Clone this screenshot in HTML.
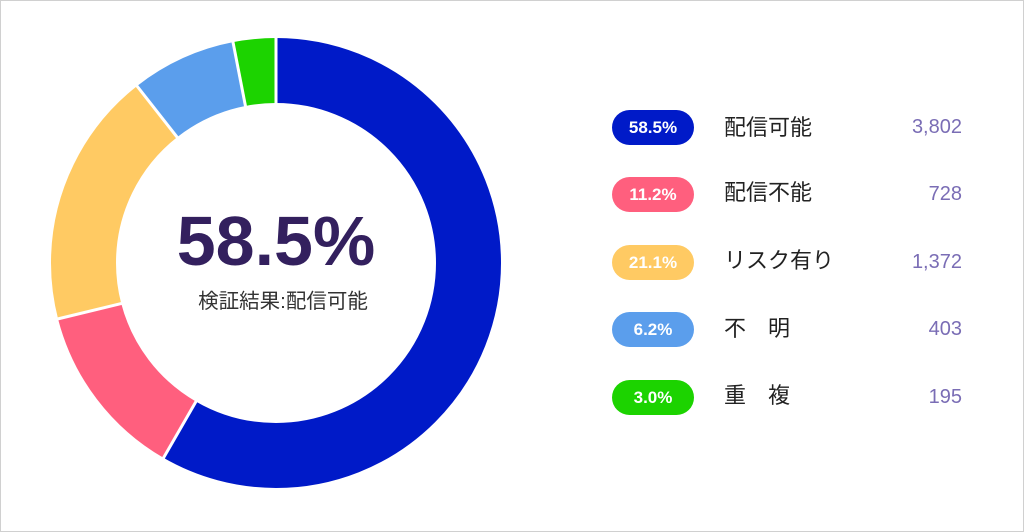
<!DOCTYPE html>
<html><head><meta charset="utf-8"><style>
html,body{margin:0;padding:0;background:#fff}
body{width:1024px;height:532px;position:relative;overflow:hidden;font-family:"Liberation Sans","Noto Sans CJK JP",sans-serif}
.frame{position:absolute;left:0;top:0;width:1022px;height:530px;border:1px solid #d0d0d0}
.pill{position:absolute;left:612px;width:82px;height:35px;border-radius:18px;color:#fff;font-size:17px;font-weight:bold;text-align:center;line-height:35px}
.lab{position:absolute;left:724px;font-size:22px;color:#222;line-height:35px}
.num{position:absolute;right:62px;font-size:20px;color:#7a6db5;line-height:35px}
</style></head><body>
<div class="frame"></div>
<svg width="1024" height="532" style="position:absolute;left:0;top:0">
<g transform="rotate(-90 276 263)" fill="none" stroke-width="65">
<circle cx="276" cy="263" r="192.5" stroke="#001ac8" stroke-dasharray="705.6 1209.5" stroke-dashoffset="0"/>
<circle cx="276" cy="263" r="192.5" stroke="#ff5f7e" stroke-dasharray="152.2 1209.5" stroke-dashoffset="-705.6"/>
<circle cx="276" cy="263" r="192.5" stroke="#ffca63" stroke-dasharray="223.4 1209.5" stroke-dashoffset="-857.8"/>
<circle cx="276" cy="263" r="192.5" stroke="#5b9eec" stroke-dasharray="91.4 1209.5" stroke-dashoffset="-1081.2"/>
<circle cx="276" cy="263" r="192.5" stroke="#1cd300" stroke-dasharray="37 1209.5" stroke-dashoffset="-1172.6"/>
</g>
<g stroke="#fff" stroke-width="3">
<line x1="276" y1="106" x2="276" y2="34"/>
<line x1="197" y1="399.8" x2="162" y2="460.5"/>
<line x1="123.2" y1="303.1" x2="57.5" y2="319"/>
<line x1="178.4" y1="138.8" x2="135" y2="83.5"/>
<line x1="245.8" y1="107.8" x2="232.4" y2="39"/>
</g>
<text x="276" y="265" text-anchor="middle" font-family="Liberation Sans, sans-serif" font-size="70" font-weight="bold" fill="#33205e">58.5%</text>
<text x="283" y="308" text-anchor="middle" font-family="Liberation Sans, Noto Sans CJK JP, sans-serif" font-size="20.5" fill="#333">検証結果:配信可能</text>
</svg>
<div class="pill" style="top:110px;background:#001ac8">58.5%</div><div class="lab" style="top:110px">配信可能</div><div class="num" style="top:110px">3,802</div>
<div class="pill" style="top:177px;background:#ff5f7e">11.2%</div><div class="lab" style="top:175px">配信不能</div><div class="num" style="top:177px">728</div>
<div class="pill" style="top:245px;background:#ffca63">21.1%</div><div class="lab" style="top:243px">リスク有り</div><div class="num" style="top:245px">1,372</div>
<div class="pill" style="top:312px;background:#5b9eec">6.2%</div><div class="lab" style="top:311px">不　明</div><div class="num" style="top:312px">403</div>
<div class="pill" style="top:380px;background:#1cd300">3.0%</div><div class="lab" style="top:378px">重　複</div><div class="num" style="top:380px">195</div>
</body></html>
